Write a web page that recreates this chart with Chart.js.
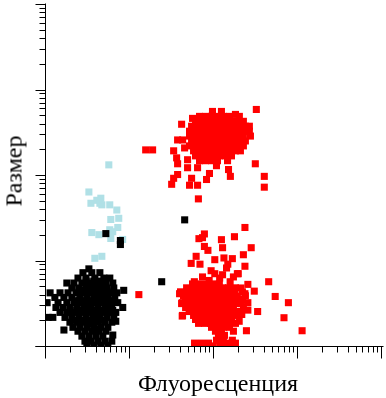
<!DOCTYPE html>
<html>
<head>
<meta charset="utf-8">
<script src="https://cdn.jsdelivr.net/npm/chart.js@4/dist/chart.umd.min.js"></script>
<style>
  body { margin: 0; background: #fff; }
  #wrap { position: relative; width: 386px; height: 398px; }
  .lbl { position: absolute; font-family: 'Liberation Serif', 'Times New Roman', serif; font-size: 24px; color: #000; white-space: nowrap; transform: translate(-50%, -50%); }
  #ylbl { left: 14px; top: 171px; transform: translate(-50%, -50%) rotate(-90deg); }
  #xlbl { left: 218px; top: 383px; }
</style>
</head>
<body>
<div id="wrap">
  <canvas id="c" width="386" height="398"></canvas>
  <div class="lbl" id="ylbl">Размер</div>
  <div class="lbl" id="xlbl">Флуоресценция</div>
</div>
<script>
// axis range (log decades) and tick steps
const decades = [1, 10, 100, 1000, 10000];
const minorSteps = [2, 3, 4, 5, 6, 7, 8, 9];

// black population
const blackPts = [
  [3.33,8.2],
  [2.83,7.4],[3.61,7.4],[4.5,7.4],
  [2.47,6.4],[3.07,6.4],[3.92,6.4],[5.02,6.4],[5.91,6.4],
  [1.82,5.6],[2.21,5.6],[2.75,5.6],[3.42,5.6],[4.14,5.6],[5.3,5.6],[6.41,5.6],
  [2.09,4.9],[2.53,4.9],[3.07,4.9],[3.71,4.9],[4.5,4.9],[5.45,4.9],[6.59,4.9],[8.65,4.6],
  [1.15,4.3],[1.51,4.3],[1.88,4.3],[2.34,4.3],[2.83,4.3],[3.42,4.3],[4.14,4.3],[5.02,4.3],[6.07,4.3],[7.16,4.3],
  [1.31,3.8],[1.68,3.8],[2.09,3.8],[2.6,3.8],[3.15,3.8],[3.81,3.8],[4.62,3.8],[5.6,3.8],[6.77,3.8],
  [1.06,3.3],[1.43,3.3],[1.82,3.3],[2.21,3.3],[2.67,3.3],[3.24,3.3],[3.92,3.3],[4.75,3.3],[5.75,3.3],[7.35,3.3],
  [1.35,2.9],[1.64,2.9],[1.98,2.9],[2.4,2.9],[2.9,2.9],[3.52,2.9],[4.26,2.9],[5.16,2.9],[6.24,2.9],[8.42,2.9],
  [1.51,2.54],[1.82,2.54],[2.21,2.54],[2.67,2.54],[3.24,2.54],[3.92,2.54],[4.75,2.54],[5.75,2.54],[6.96,2.54],
  [1.09,2.22],[1.24,2.22],[1.73,2.22],[2.09,2.22],[2.53,2.22],[3.07,2.22],[3.71,2.22],[4.5,2.22],[5.45,2.22],[6.59,2.22],
  [1.98,1.95],[2.4,1.95],[2.9,1.95],[3.52,1.95],[4.26,1.95],[5.16,1.95],[6.24,1.95],[6.96,2.0],
  [2.15,1.7],[2.6,1.7],[3.15,1.7],[3.81,1.7],[4.62,1.7],[5.6,1.7],
  [1.68,1.58],[2.47,1.53],[2.99,1.53],[3.61,1.53],[4.38,1.53],[5.3,1.53],
  [2.75,1.34],[3.33,1.34],[4.03,1.34],[4.88,1.34],[6.41,1.38],
  [2.99,1.17],[3.52,1.17],[4.26,1.17],[5.16,1.17],[6.24,1.17],
  [3.15,1.05],[3.81,1.05],[4.62,1.05],[5.6,1.05],
  [3.0,4.6],[3.7,4.6],[4.4,4.0],[2.6,3.5],[3.3,3.1],[4.0,3.6],[4.9,3.6],[2.9,2.7],[3.6,2.7],[4.4,2.4],
  [3.3,2.05],[4.0,2.05],[2.7,2.0],[3.5,1.85],[4.2,1.6],[4.9,2.6],[5.5,3.0],[3.9,5.2],[4.8,5.2],[3.2,5.2],
  [2.55,4.55],[3.1,4.55],[3.8,4.55],[4.6,4.55],[5.5,4.55],
  [2.4,3.48],[2.95,3.48],[3.55,3.48],[4.3,3.48],[5.2,3.48],[6.3,3.48],
  [2.0,2.67],[2.45,2.67],[3.0,2.67],[3.6,2.67],[4.4,2.67],[5.3,2.67],[6.4,2.67],
  [2.3,2.05],[2.8,2.05],[3.4,2.05],[4.1,2.05],[5.0,2.05],
  [3.1,5.9],[3.8,5.9],[4.7,5.9],
  [5.3,21.2],[7.9,17.6],[7.9,15.8],[46,30.7],[24.5,5.8]
];

// light blue population
const bluePts = [
  [5.75,135],[3.33,65],[3.52,48],[4.14,52],[4.62,55],[4.5,48],[4.75,46],[5.9,46],[7.16,40],[7.55,32],
  [6.07,31],[7.35,25],[5.9,23.5],[6.4,22.3],[3.61,21.8],[4.38,20.6],[6.07,18.6],[8.4,18.1],[3.92,10.9],[4.75,11.5]
];

// red population, upper cloud
const redUpperPts = [
  [98.6,569],[126,569],[185,525],
  [69.1,498],[81.5,498],[96,498],[113,498],[133,498],[157,498],[206,498],
  [62,436],[73,436],[86.1,436],[101,436],[119,436],[141,436],[166,436],[195,436],[230,436],
  [55.6,382],[65.5,382],[77.1,382],[90.8,382],[107,382],[126,382],[149,382],[175,382],[206,382],[243,382],[271,382],
  [52.6,334],[62,334],[73,334],[86.1,334],[101,334],[119,334],[141,334],[166,334],[195,334],[230,334],[271,334],
  [52.6,293],[62,293],[73,293],[86.1,293],[101,293],[119,293],[141,293],[166,293],[195,293],[230,293],[279,293],
  [55.6,257],[65.5,257],[77.1,257],[90.8,257],[107,257],[126,257],[149,257],[175,257],[206,257],[243,257],
  [52.6,225],[62,225],[73,225],[86.1,225],[101,225],[119,225],[141,225],[166,225],[195,225],[230,225],
  [58.7,197],[69.1,197],[81.5,197],[96,197],[113,197],[133,197],[157,197],[185,197],[212,197],
  [62,172],[73,172],[86.1,172],[101,172],[119,172],[141,172],[166,172],
  [69.1,151],[81.5,151],[96,151],[113,151],[149,151],
  [70,362],[83,362],[98,362],[116,362],[137,362],[160,362],[190,362],
  [57,278],[68,278],[80,278],[94,278],[110,278],[130,278],[155,278],[180,278],[215,278],
  [67,213],[79,213],[94,213],[110,213],[130,213],[155,213],[180,213],
  [328,600],[57.1,472],[42.3,403],[37.9,264],[43.5,264],[34,197],[36.9,163],[37.9,139],[34,94],[32.2,80],
  [37.9,104],[55.6,94],[52.6,78],[65.5,78],[83.7,91],[90.8,107],[153,119],[161,99],[319,139],[408,99],
  [408,74],[45.9,213],[49.8,155],[49.8,125],[65.5,125],[73,155],[110,132],[67,54],[15.8,202],[19.1,202]
];

// red population, lower cloud
const redLowerPts = [
  [57.1,5.47],[69.1,5.47],[83.7,5.47],[101,5.47],[119,5.47],
  [48.5,4.92],[57.1,4.92],[67.3,4.92],[79.2,4.92],[93.4,4.92],[110,4.92],[130,4.92],[153,4.92],[185,4.92],
  [41.1,4.42],[48.5,4.42],[57.1,4.42],[67.3,4.42],[79.2,4.42],[93.4,4.42],[110,4.42],[130,4.42],[153,4.42],[180,4.42],[224,4.42],
  [44.6,3.97],[52.6,3.97],[62,3.97],[73,3.97],[86.1,3.97],[101,3.97],[119,3.97],[141,3.97],[166,3.97],[195,3.97],[243,3.97],
  [47.2,3.57],[55.6,3.57],[65.5,3.57],[77.1,3.57],[90.8,3.57],[107,3.57],[126,3.57],[149,3.57],[175,3.57],[206,3.57],
  [42.3,3.22],[49.8,3.22],[58.7,3.22],[69.1,3.22],[81.5,3.22],[96,3.22],[113,3.22],[133,3.22],[157,3.22],[185,3.22],[218,3.22],
  [47.2,2.89],[55.6,2.89],[65.5,2.89],[77.1,2.89],[90.8,2.89],[107,2.89],[126,2.89],[149,2.89],[175,2.89],
  [52.6,2.6],[62,2.6],[73,2.6],[86.1,2.6],[101,2.6],[119,2.6],[141,2.6],[166,2.6],[195,2.6],
  [43.4,2.34],[58.7,2.34],[69.1,2.34],[81.5,2.34],[96,2.34],[113,2.34],[133,2.34],[157,2.34],[185,2.34],
  [62,2.1],[73,2.1],[86.1,2.1],[101,2.1],[119,2.1],[141,2.1],[166,2.1],
  [67.3,1.89],[79.2,1.89],[93.4,1.89],[110,1.89],[130,1.89],[153,1.89],[185,1.89],
  [96,1.7],[113,1.7],[133,1.7],[157,1.7],
  [107,1.53],[126,1.53],[175,1.53],
  [116,1.37],[137,1.37],
  [110,1.2],[133,1.2],[170,1.2],
  [60.3,1.11],[73,1.11],[88.4,1.11],[123,1.11],[149,1.11],[185,1.11],
  [79.2,1.03],[101,1.03],[133,1.03],[166,1.03],
  [53,4.2],[62,4.2],[73,4.2],[86,4.2],[101,4.2],[120,4.2],[141,4.2],[166,4.2],
  [52,3.4],[62,3.4],[73,3.4],[87,3.4],[102,3.4],[120,3.4],[141,3.4],[166,3.4],[196,3.4],
  [60,2.75],[71,2.75],[84,2.75],[98,2.75],[116,2.75],[137,2.75],[162,2.75],
  [67,2.2],[79,2.2],[93,2.2],[110,2.2],[130,2.2],[153,2.2],
  [79,21],[68,18.5],[75,19],[126,18],[180,19.5],[79,15],[87,13.5],[130,14.5],[63,11.5],[55,9.5],
  [70,9.3],[105,10.5],[135,11],[170,10.8],[150,9.3],[145,8.4],[105,7.2],[195,7.2],[240,25],[285,14.5],
  [230,12],[240,8.8],[200,7.2],[260,5.4],[460,5.8],[310,4.5],[550,3.9],[790,3.3],[260,2.7],[340,2.6],
  [700,2.2],[250,1.55],[1150,1.55],[40,4.2],[45,4.1],[43,3.3],[43,2.3],[52,2.8],[60,5.8],
  [75,6.6],[90,6.0],[120,6.4],[160,5.8],[175,6.6],[95,7.8],[130,7.0],
  [215,4.9],[240,4.2],[225,3.6],[260,3.3],[230,2.9],[220,2.4],[205,2.0],
  [13.1,4.1]
];

const toXY = arr => arr.map(([x, y]) => ({ x, y }));

function ds(label, pts, color) {
  return {
    label, data: toXY(pts),
    backgroundColor: color, borderWidth: 0,
    pointStyle: 'rect', pointRadius: 5, pointHoverRadius: 5
  };
}

// axes with log decade / minor ticks, drawn from the scales
const logAxes = {
  id: 'logAxes',
  afterDraw(chart) {
    const { ctx } = chart;
    const xs = chart.scales.x, ys = chart.scales.y;
    const px = v => Math.round(xs.getPixelForValue(v)) + 0.5;
    const py = v => Math.round(ys.getPixelForValue(v)) - 0.5;
    const x0 = px(decades[0]), y0 = py(decades[0]);
    const xEnd = px(decades[decades.length - 1]), yEnd = py(decades[decades.length - 1]);
    ctx.save();
    ctx.strokeStyle = '#000';
    ctx.lineWidth = 1;
    ctx.beginPath();
    ctx.moveTo(x0 - 10, y0); ctx.lineTo(xEnd + 2, y0);
    ctx.moveTo(x0, yEnd - 1); ctx.lineTo(x0, y0 + 11);
    decades.forEach((d, i) => {
      ctx.moveTo(px(d), y0); ctx.lineTo(px(d), y0 + 12);
      ctx.moveTo(x0, py(d)); ctx.lineTo(x0 - 10, py(d));
      if (i === decades.length - 1) return;
      minorSteps.forEach(k => {
        ctx.moveTo(px(k * d), y0); ctx.lineTo(px(k * d), y0 + 6);
        ctx.moveTo(x0, py(k * d)); ctx.lineTo(x0 - 6, py(k * d));
      });
    });
    ctx.stroke();
    ctx.restore();
  }
};

new Chart(document.getElementById('c'), {
  type: 'scatter',
  data: {
    datasets: [
      ds('red upper', redUpperPts, '#ff0000'),
      ds('red lower', redLowerPts, '#ff0000'),
      ds('black', blackPts, '#000000'),
      ds('blue', bluePts, '#b0e0e6')
    ]
  },
  options: {
    responsive: false,
    devicePixelRatio: 1,
    animation: false,
    layout: { padding: { left: 45, right: 4, top: 1, bottom: 51 } },
    plugins: { legend: { display: false }, tooltip: { enabled: false } },
    scales: {
      x: { type: 'logarithmic', min: decades[0], max: decades[decades.length - 1], display: false },
      y: { type: 'logarithmic', min: decades[0], max: decades[decades.length - 1], display: false }
    }
  },
  plugins: [logAxes]
});
</script>
</body>
</html>
